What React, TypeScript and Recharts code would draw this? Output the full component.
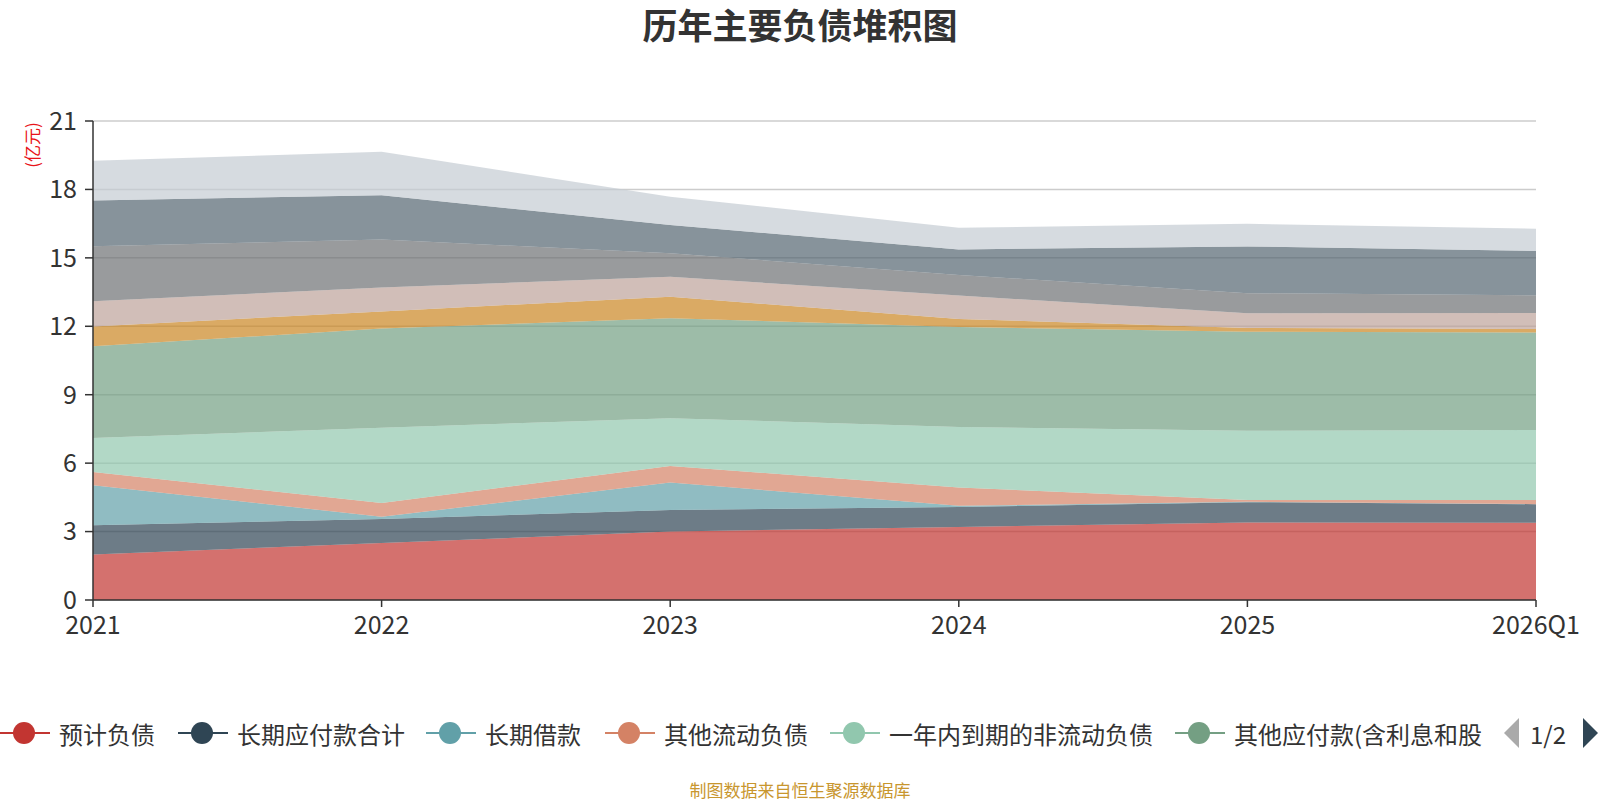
import React from 'react';
import { AreaChart, Area, XAxis, YAxis, CartesianGrid, Legend } from 'recharts';

const years = ['2021', '2022', '2023', '2024', '2025', '2026Q1'];

// 亿元
const yujiFuzhai = [2.0, 2.5, 3.0, 3.2, 3.4, 3.39];
const changqiYingfu = [1.28, 1.05, 0.95, 0.88, 0.89, 0.81];
const changqiJiekuan = [1.75, 0.1, 1.2, 0.05, 0.02, 0];
const qitaLiudong = [0.58, 0.6, 0.73, 0.8, 0.07, 0.18];
const yinianDaoqi = [1.49, 3.3, 2.09, 2.66, 3.04, 3.07];
const qitaYingfu = [4.02, 4.35, 4.38, 4.38, 4.34, 4.28];
const yingjiaoShuifei = [0.87, 0.75, 0.95, 0.35, 0.17, 0.15];
const yingfuZhigong = [1.11, 1.05, 0.87, 1.03, 0.64, 0.7];
const hetongFuzhai = [2.41, 2.1, 1.03, 0.9, 0.88, 0.78];
const yingfuZhangkuan = [2.0, 1.95, 1.24, 1.12, 2.05, 1.94];
const duanqiJiekuan = [1.75, 1.9, 1.24, 0.95, 0.99, 0.98];

const yTicks = [0, 3, 6, 9, 12, 15, 18, 21];

const series = [
  { key: 'yjfz', name: '预计负债', values: yujiFuzhai, color: '#c23531' },
  { key: 'cqyf', name: '长期应付款合计', values: changqiYingfu, color: '#2f4554' },
  { key: 'cqjk', name: '长期借款', values: changqiJiekuan, color: '#61a0a8' },
  { key: 'qtld', name: '其他流动负债', values: qitaLiudong, color: '#d48265' },
  { key: 'yndq', name: '一年内到期的非流动负债', values: yinianDaoqi, color: '#91c7ae' },
  { key: 'qtyf', name: '其他应付款(含利息和股利)', values: qitaYingfu, color: '#749f83' },
  { key: 'yjsf', name: '应交税费', values: yingjiaoShuifei, color: '#ca8622' },
  { key: 'yfzg', name: '应付职工薪酬', values: yingfuZhigong, color: '#bda29a' },
  { key: 'htfz', name: '合同负债', values: hetongFuzhai, color: '#6e7074' },
  { key: 'yfzk', name: '应付账款', values: yingfuZhangkuan, color: '#546570' },
  { key: 'dqjk', name: '短期借款', values: duanqiJiekuan, color: '#c4ccd3' },
];

const data = years.map((year, i) => {
  const row: Record<string, string | number> = { year };
  series.forEach((s) => { row[s.key] = s.values[i]; });
  return row;
});

const font = '"Noto Sans CJK SC", "Noto Sans", sans-serif';

// legend page 1 with item x positions
const legendPage = [
  { x: 0, label: '预计负债' },
  { x: 178, label: '长期应付款合计' },
  { x: 426, label: '长期借款' },
  { x: 605, label: '其他流动负债' },
  { x: 830, label: '一年内到期的非流动负债' },
  { x: 1175, label: '其他应付款(含利息和股' },
];

function PagedLegend() {
  return (
    <div style={{ position: 'relative', width: 1600, height: 40, fontFamily: font }}>
      {legendPage.map((item, i) => (
        <div key={item.label} style={{ position: 'absolute', left: item.x, top: 0, height: 40, display: 'flex', alignItems: 'center' }}>
          <svg width={50} height={40}>
            <line x1={0} y1={20} x2={50} y2={20} stroke={series[i].color} strokeWidth={2} />
            <circle cx={24} cy={20} r={11} fill={series[i].color} />
          </svg>
          <span style={{ marginLeft: 9, fontSize: 24, color: '#333', whiteSpace: 'nowrap' }}>{item.label}</span>
        </div>
      ))}
      <svg width={20} height={40} style={{ position: 'absolute', left: 1502, top: 0 }}>
        <polygon points="17,5 17,35 2,20" fill="#aaa" />
      </svg>
      <span style={{ position: 'absolute', left: 1530, top: 3, fontSize: 24, color: '#333' }}>1/2</span>
      <svg width={20} height={40} style={{ position: 'absolute', left: 1581, top: 0 }}>
        <polygon points="2,5 2,35 17,20" fill="#2f4554" />
      </svg>
    </div>
  );
}

export default function App() {
  return (
    <div style={{ position: 'absolute', left: 0, top: 0, width: 1600, height: 800, background: '#fff', fontFamily: font }}>
      <div style={{ position: 'absolute', left: 0, top: -2, width: 1600, textAlign: 'center', fontSize: 35, fontWeight: 'bold', color: '#333' }}>
        历年主要负债堆积图
      </div>
      <div style={{ position: 'absolute', left: 31, top: 145, transform: 'translate(-50%, -50%) rotate(-90deg)', fontSize: 17, color: '#e8141a', whiteSpace: 'nowrap' }}>
        (亿元)
      </div>
      <AreaChart width={1600} height={800} data={data} margin={{ top: 121, right: 64, bottom: 130, left: 33 }}>
        <CartesianGrid vertical={false} stroke="#ccc" strokeWidth={1.5} />
        <XAxis
          dataKey="year"
          height={30}
          axisLine={{ stroke: '#333', strokeWidth: 1.5 }}
          tickLine={{ stroke: '#333', strokeWidth: 1.5 }}
          tickSize={7}
          tickMargin={9}
          tick={{ fill: '#333', fontSize: 25, fontFamily: font }}
          interval={0}
        />
        <YAxis
          width={60}
          domain={[0, 21]}
          ticks={yTicks}
          interval={0}
          axisLine={{ stroke: '#333', strokeWidth: 1.5 }}
          tickLine={{ stroke: '#333', strokeWidth: 1.5 }}
          tickSize={8}
          tickMargin={8}
          tick={{ fill: '#333', fontSize: 25, fontFamily: font }}
        />
        {series.map((s) => (
          <Area
            key={s.key}
            type="linear"
            dataKey={s.key}
            name={s.name}
            stackId="total"
            stroke="none"
            fill={s.color}
            fillOpacity={0.7}
            isAnimationActive={false}
          />
        ))}
        <Legend content={() => <PagedLegend />} wrapperStyle={{ position: 'absolute', left: 0, top: 713, width: 1600 }} />
      </AreaChart>
      <div style={{ position: 'absolute', left: 0, top: 777, width: 1600, textAlign: 'center', fontSize: 17, color: '#c8962e' }}>
        制图数据来自恒生聚源数据库
      </div>
    </div>
  );
}
